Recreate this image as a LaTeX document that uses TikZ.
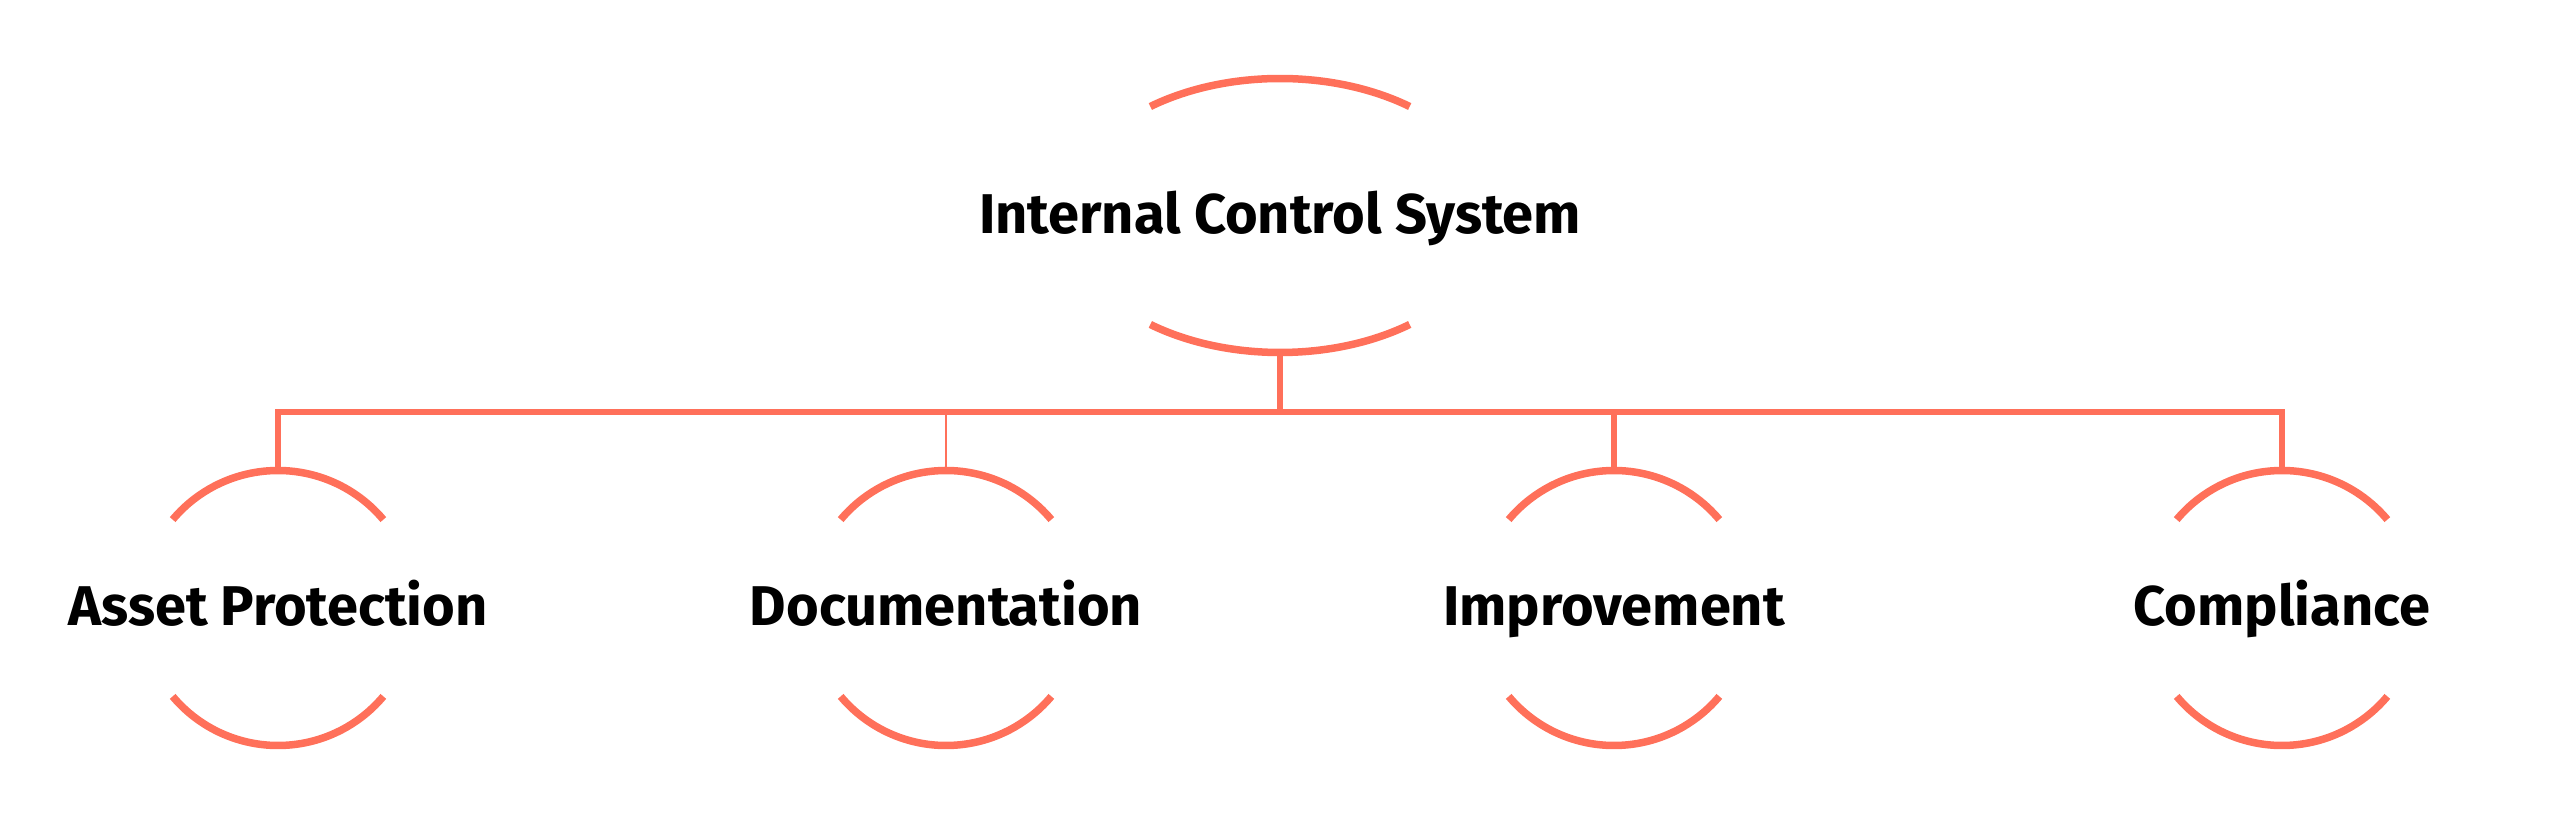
\documentclass[tikz,border=0pt]{standalone}
\usepackage{fontspec}
\setmainfont{Fira Sans}
\definecolor{coral}{HTML}{FF705A}
\begin{document}
\begin{tikzpicture}[x=1pt,y=1pt,
  ring/.style={draw=coral,line width=7.5pt},
  link/.style={draw=coral,line width=5.5pt},
  thinlink/.style={draw=coral,line width=2.5pt},
  lbl/.style={font=\fontsize{56}{60}\selectfont\bfseries,text=black,inner sep=0pt,anchor=base}]
\useasboundingbox (0,0) rectangle (2560,814);
% centres
\coordinate (c0) at (1280,598.5);
\coordinate (c1) at (278,206);
\coordinate (c2) at (946,206);
\coordinate (c3) at (1614,206);
\coordinate (c4) at (2282,206);
% labels
\node[lbl] (n0) at (1280,580) {Internal Control System};
\node[lbl] (n1) at (278,188) {Asset Protection};
\node[lbl] (n2) at (946,188) {Documentation};
\node[lbl] (n3) at (1614,188) {Improvement};
\node[lbl] (n4) at (2282,188) {Compliance};
% top ellipse arcs
\draw[ring] ([shift={(52.7:214 and 137)}]c0) arc[start angle=52.7,end angle=127.3,x radius=214,y radius=137];
\draw[ring] ([shift={(232.7:214 and 137)}]c0) arc[start angle=232.7,end angle=307.3,x radius=214,y radius=137];
% circle arcs
\foreach \c in {c1,c2,c3,c4}{
  \draw[ring] ([shift={(40:137.5)}]\c) arc[start angle=40,end angle=140,radius=137.5];
  \draw[ring] ([shift={(220:137.5)}]\c) arc[start angle=220,end angle=320,radius=137.5];
}
% connector points
\coordinate (t0) at (1280,461.5);
\coordinate (b0) at (1280,402);
\coordinate (t1) at (278,343.5);
\coordinate (t2) at (946,343.5);
\coordinate (t3) at (1614,343.5);
\coordinate (t4) at (2282,343.5);
\draw[link] (t1) |- (b0) -| (t4);
\draw[link] (t0) -- (b0);
\draw[thinlink] (t2 |- b0) -- (t2);
\draw[link] (t3 |- b0) -- (t3);
\end{tikzpicture}
\end{document}
